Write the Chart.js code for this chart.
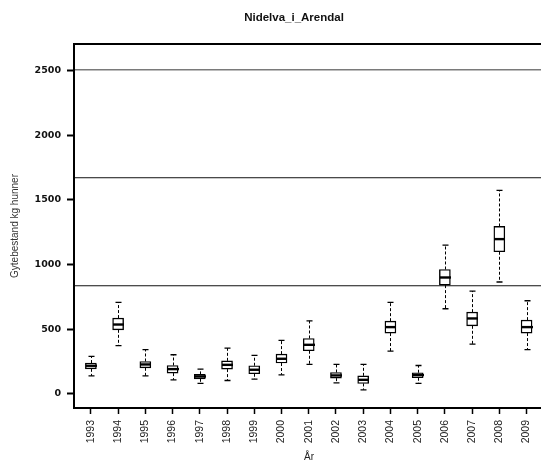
<!DOCTYPE html>
<html>
<head>
<meta charset="utf-8">
<script src="https://cdn.jsdelivr.net/npm/chart.js@4/dist/chart.umd.min.js"></script>
<style>
html,body{margin:0;padding:0;background:#fff;}
#wrap{width:541px;height:460px;overflow:hidden;position:relative;}
canvas{display:block;}
</style>
</head>
<body>
<div id="wrap"><canvas id="c" width="546" height="460"></canvas></div>
<script>
// ---- data ----
const years = ['1993','1994','1995','1996','1997','1998','1999','2000','2001','2002','2003','2004','2005','2006','2007','2008','2009'];
const whiskerLow  = [139, 372, 139, 108,  80, 103, 114, 147, 227,  85,  31, 330,  80,  658, 385,  865, 341];
const q1          = [193, 495, 201, 160, 116, 191, 155, 238, 333, 121,  80, 470, 124,  841, 526, 1099, 470];
const median      = [217, 536, 227, 191, 134, 224, 186, 271, 379, 142, 108, 516, 145,  900, 583, 1197, 516];
const q3          = [238, 586, 250, 219, 150, 255, 217, 307, 428, 165, 139, 562, 163,  962, 632, 1295, 570];
const whiskerHigh = [289, 707, 341, 302, 191, 354, 297, 413, 565, 227, 227, 707, 219, 1151, 795, 1574, 720];
const refLines = [836, 1672, 2508];
const yTickValues = [0, 500, 1000, 1500, 2000, 2500];
const titleText = 'Nidelva_i_Arendal';
const yTitle = 'Gytebestand kg hunner';
const xTitle = 'År';

const X_MIN = -0.62, X_MAX = 16.64;

const refColors = ['#111', '#111', '#7a7a7a'];
const refWidths = [1, 1, 1.6];

const datasets = [];
refLines.forEach((v, k) => {
  datasets.push({
    type: 'line',
    data: [{x: X_MIN, y: v}, {x: X_MAX, y: v}],
    borderColor: refColors[k],
    borderWidth: refWidths[k],
    pointRadius: 0,
    fill: false,
    order: 2
  });
});
datasets.push({
  type: 'bar',
  data: years.map((yr, i) => ({x: i, y: [q1[i], q3[i]]})),
  backgroundColor: '#fff',
  borderColor: '#000',
  borderWidth: 1.4,
  borderSkipped: false,
  barThickness: 11,
  grouped: false,
  order: 1
});

const boxExtras = {
  id: 'boxExtras',
  afterDatasetsDraw(chart) {
    const ctx = chart.ctx, xs = chart.scales.x, ys = chart.scales.y;
    ctx.save();
    years.forEach((yr, i) => {
      const cx = Math.round(xs.getPixelForValue(i)) + 0.5;
      const yLo = ys.getPixelForValue(whiskerLow[i]);
      const yQ1 = ys.getPixelForValue(q1[i]);
      const yQ3 = ys.getPixelForValue(q3[i]);
      const yHi = ys.getPixelForValue(whiskerHigh[i]);
      const yMed = ys.getPixelForValue(median[i]);
      ctx.strokeStyle = '#000';
      ctx.lineWidth = 1;
      ctx.setLineDash([3, 2]);
      ctx.beginPath();
      ctx.moveTo(cx, yQ3); ctx.lineTo(cx, yHi);
      ctx.moveTo(cx, yQ1); ctx.lineTo(cx, yLo);
      ctx.stroke();
      ctx.setLineDash([]);
      ctx.lineWidth = 1.3;
      ctx.beginPath();
      ctx.moveTo(cx - 3, yHi); ctx.lineTo(cx + 3, yHi);
      ctx.moveTo(cx - 3, yLo); ctx.lineTo(cx + 3, yLo);
      ctx.stroke();
      ctx.lineWidth = 2.4;
      ctx.beginPath();
      ctx.moveTo(cx - 5.5, yMed); ctx.lineTo(cx + 5.5, yMed);
      ctx.stroke();
    });
    // frame
    const a = chart.chartArea;
    ctx.lineWidth = 2;
    ctx.strokeStyle = '#000';
    ctx.strokeRect(a.left, a.top, a.right - a.left, a.bottom - a.top);
    // title
    ctx.fillStyle = '#111';
    ctx.font = 'bold 11.5px "Liberation Sans", Arial, sans-serif';
    ctx.textAlign = 'center';
    ctx.textBaseline = 'middle';
    ctx.fillText(titleText, 294, 18);
    ctx.restore();
  }
};

new Chart(document.getElementById('c'), {
  data: { datasets },
  options: {
    responsive: false,
    animation: false,
    devicePixelRatio: 1,
    layout: { padding: { top: 44, left: 0, right: 2, bottom: 0 } },
    plugins: { legend: { display: false }, tooltip: { enabled: false }, title: { display: false } },
    scales: {
      x: {
        type: 'linear',
        offset: false,
        min: X_MIN, max: X_MAX,
        border: { display: false },
        grid: { display: true, offset: false, drawOnChartArea: false, drawTicks: true, tickLength: 6, tickWidth: 1.5, tickColor: '#000' },
        afterBuildTicks(s) { s.ticks = years.map((y, i) => ({value: i})); },
        afterFit(s) { s.height = 52; },
        ticks: {
          autoSkip: false, minRotation: 90, maxRotation: 90, padding: 6,
          color: '#222',
          font: { family: '"Liberation Sans", Arial, sans-serif', size: 10.5 },
          callback: (v) => years[v]
        },
        title: {
          display: true, text: xTitle, color: '#222',
          font: { family: '"Liberation Sans", Arial, sans-serif', size: 10, lineHeight: 0.6 },
          padding: { top: 0, bottom: 0 }
        }
      },
      y: {
        type: 'linear',
        min: -110, max: 2707,
        border: { display: false },
        grid: { display: true, drawOnChartArea: false, drawTicks: true, tickLength: 7, tickWidth: 2, tickColor: '#000' },
        afterBuildTicks(s) { s.ticks = yTickValues.map(v => ({value: v})); },
        afterFit(s) { s.width = 74; },
        ticks: {
          padding: 6, color: '#111',
          font: { family: '"DejaVu Sans", sans-serif', size: 9.5, weight: 'bold' },
          callback: (v) => String(v)
        },
        title: {
          display: true, text: yTitle, color: '#333',
          font: { family: '"Liberation Sans", Arial, sans-serif', size: 10, lineHeight: 1.2 },
          padding: { top: 9, bottom: 0 }
        }
      }
    }
  },
  plugins: [boxExtras]
});
</script>
</body>
</html>
